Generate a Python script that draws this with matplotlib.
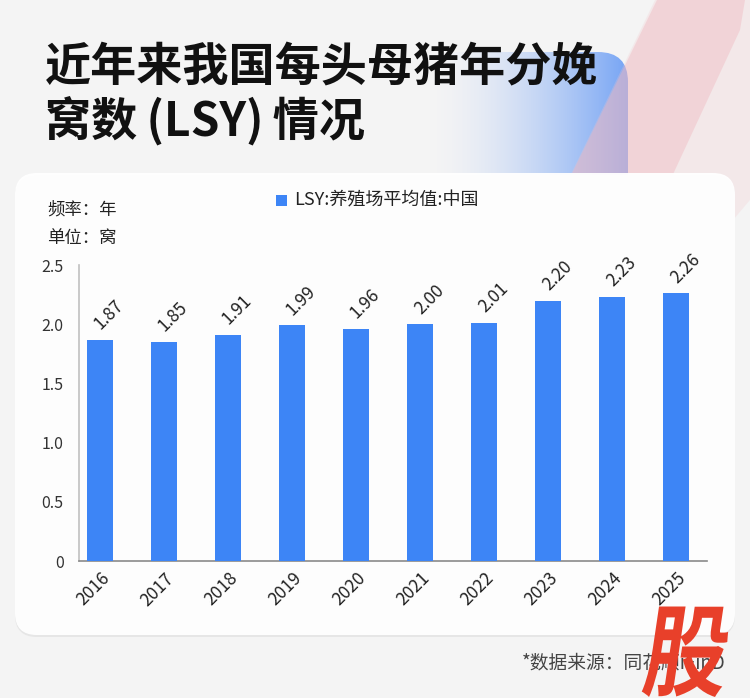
import numpy as np
import matplotlib
matplotlib.use("Agg")
import matplotlib.pyplot as plt
from matplotlib.patches import FancyBboxPatch, Polygon, PathPatch
from matplotlib.textpath import TextPath
from matplotlib.font_manager import FontProperties
from matplotlib.transforms import Affine2D, ScaledTranslation

plt.rcParams['font.family'] = ['Noto Sans CJK SC', 'DejaVu Sans']

years = ['2016', '2017', '2018', '2019', '2020', '2021', '2022', '2023', '2024', '2025']
lsy = [1.87, 1.85, 1.91, 1.99, 1.96, 2.00, 2.01, 2.20, 2.23, 2.26]
yticks = [0, 0.5, 1.0, 1.5, 2.0, 2.5]
ytick_labels = ['0', '0.5', '1.0', '1.5', '2.0', '2.5']
title_line1 = '近年来我国每头母猪年分娩'
title_line2 = '窝数\u2009(LSY)\u2009情况'
legend_label = 'LSY:养殖场平均值:中国'
source = '*数据来源：同花顺iFinD'

W, H = 750, 698
fig = plt.figure(figsize=(W / 100, H / 100), dpi=100)
fig.patch.set_facecolor('#f4f4f4')

# background axes in pixel coordinates
bg = fig.add_axes([0, 0, 1, 1])
bg.set_xlim(0, W)
bg.set_ylim(H, 0)
bg.axis('off')

# blue gradient shape behind title
grad = np.linspace(0, 1, 256) ** 1.6
blue_img = np.zeros((2, 256, 4))
blue_img[..., 0] = 0.36
blue_img[..., 1] = 0.58
blue_img[..., 2] = 0.96
blue_img[..., 3] = grad * 0.85
im = bg.imshow(blue_img, extent=(430, 632, 178, 50), aspect='auto', zorder=1,
               interpolation='bilinear')
clip = FancyBboxPatch((330, 52), 298, 150, boxstyle='round,pad=0,rounding_size=30',
                      transform=bg.transData, facecolor='none', edgecolor='none')
bg.add_patch(clip)
im.set_clip_path(clip)

# pink diagonal band (faint wide + stronger core)
pink_wide = Polygon([[655, 0], [750, 0], [750, 200], [640, 330], [515, 290]], closed=True,
                    facecolor='#f3c6cb', edgecolor='none', alpha=0.25, zorder=2)
bg.add_patch(pink_wide)
pink = Polygon([[657, 0], [745, 0], [740, 30], [610, 310], [515, 290]], closed=True,
               facecolor='#f0b4bc', edgecolor='none', alpha=0.4, zorder=2)
bg.add_patch(pink)

# card shadow + card
shadow = FancyBboxPatch((15, 175), 720, 462, boxstyle='round,pad=0,rounding_size=22',
                        facecolor='#e6e6e6', edgecolor='none', zorder=3)
bg.add_patch(shadow)
card = FancyBboxPatch((15, 173), 720, 462, boxstyle='round,pad=0,rounding_size=22',
                      facecolor='white', edgecolor='none', alpha=0.96, zorder=4)
bg.add_patch(card)

# title
bg.text(45, 67, title_line1, fontsize=33.2, fontweight='bold', color='#111111',
        va='center', ha='left', zorder=5)
bg.text(45, 121, title_line2, fontsize=33.2, fontweight='bold', color='#111111',
        va='center', ha='left', zorder=5)

# meta labels
bg.text(47, 210, '频率：年', fontsize=12.5, color='#222222', va='center', ha='left', zorder=5)
bg.text(47, 238, '单位：窝', fontsize=12.5, color='#222222', va='center', ha='left', zorder=5)

# legend
bar_color = '#3d85f6'
bg.add_patch(plt.Rectangle((276, 195), 11, 11, facecolor=bar_color, edgecolor='none', zorder=5))
bg.text(294, 200.5, legend_label, fontsize=13, color='#222222', va='center', ha='left', zorder=5)

# source
bg.text(726, 663, source, fontsize=13.5, color='#444444', va='center', ha='right', zorder=5)

# chart axes
left, right = 79, 707
top, bottom = 265, 561
ax = fig.add_axes([left / W, 1 - bottom / H, (right - left) / W, (bottom - top) / H])
ax.set_facecolor('none')
x = np.arange(len(years))
bars = ax.bar(x, lsy, width=0.41, color=bar_color, zorder=3)
ax.set_xlim(-0.333, 9.48)
ax.set_ylim(0, 2.5)
ax.set_yticks(yticks)
ax.set_yticklabels(ytick_labels, fontsize=11.5, color='#333333')
ax.set_xticks(x)
ax.set_xticklabels(years, fontsize=12.5, color='#222222', rotation=45, ha='right',
                   rotation_mode='anchor')
offset = ScaledTranslation(11 / 100, 0, fig.dpi_scale_trans)
for lbl in ax.get_xticklabels():
    lbl.set_transform(lbl.get_transform() + offset)
ax.tick_params(axis='y', length=0, pad=11)
ax.tick_params(axis='x', length=0, pad=6)
for s in ['top', 'right']:
    ax.spines[s].set_visible(False)
ax.spines['left'].set_color('#c0c0c0')
ax.spines['left'].set_linewidth(1.2)
ax.spines['bottom'].set_color('#8a8a8a')
ax.spines['bottom'].set_linewidth(1.2)

for xi, v in zip(x, lsy):
    ax.annotate(f'{v:.2f}', (xi, v), xytext=(9, 25), textcoords='offset pixels',
                rotation=45, ha='center', va='center', fontsize=12.5, color='#222222')

# watermark glyph
fp = FontProperties(family='Noto Sans CJK SC', weight='black')
tp = TextPath((0, 0), '股', size=1, prop=fp)
tr = Affine2D().scale(1, -1).skew_deg(-10, 0).scale(84, 100).translate(640, 688)
path = tr.transform_path(tp)
bg.add_patch(PathPatch(path, facecolor='#e8402a', edgecolor='none', zorder=6))

fig.savefig('out.png', dpi=100, facecolor=fig.get_facecolor())
